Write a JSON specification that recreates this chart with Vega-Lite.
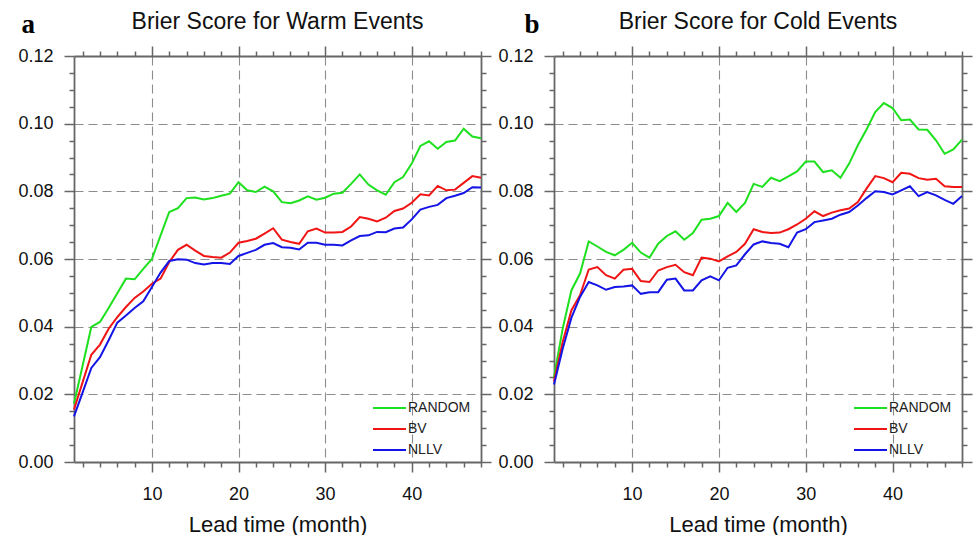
{
  "$schema": "https://vega.github.io/schema/vega-lite/v6.json",
  "background": "white",
  "padding": {"left": 17, "top": 10, "right": 0, "bottom": 0},
  "spacing": 5,
  "datasets": {
    "warm": [
      {"lead": 1, "RANDOM": 0.0172, "BV": 0.0155, "NLLV": 0.0135},
      {"lead": 2, "RANDOM": 0.0285, "BV": 0.0236, "NLLV": 0.0206},
      {"lead": 3, "RANDOM": 0.0399, "BV": 0.0317, "NLLV": 0.0278},
      {"lead": 4, "RANDOM": 0.0414, "BV": 0.0347, "NLLV": 0.0310},
      {"lead": 5, "RANDOM": 0.0455, "BV": 0.0394, "NLLV": 0.0360},
      {"lead": 6, "RANDOM": 0.0499, "BV": 0.0428, "NLLV": 0.0412},
      {"lead": 7, "RANDOM": 0.0542, "BV": 0.0458, "NLLV": 0.0433},
      {"lead": 8, "RANDOM": 0.0540, "BV": 0.0485, "NLLV": 0.0455},
      {"lead": 9, "RANDOM": 0.0571, "BV": 0.0504, "NLLV": 0.0475},
      {"lead": 10, "RANDOM": 0.0600, "BV": 0.0527, "NLLV": 0.0517},
      {"lead": 11, "RANDOM": 0.0670, "BV": 0.0542, "NLLV": 0.0560},
      {"lead": 12, "RANDOM": 0.0739, "BV": 0.0591, "NLLV": 0.0594},
      {"lead": 13, "RANDOM": 0.0750, "BV": 0.0627, "NLLV": 0.0599},
      {"lead": 14, "RANDOM": 0.0780, "BV": 0.0642, "NLLV": 0.0598},
      {"lead": 15, "RANDOM": 0.0782, "BV": 0.0625, "NLLV": 0.0588},
      {"lead": 16, "RANDOM": 0.0776, "BV": 0.0609, "NLLV": 0.0584},
      {"lead": 17, "RANDOM": 0.0780, "BV": 0.0606, "NLLV": 0.0588},
      {"lead": 18, "RANDOM": 0.0787, "BV": 0.0604, "NLLV": 0.0588},
      {"lead": 19, "RANDOM": 0.0793, "BV": 0.0619, "NLLV": 0.0585},
      {"lead": 20, "RANDOM": 0.0827, "BV": 0.0648, "NLLV": 0.0609},
      {"lead": 21, "RANDOM": 0.0803, "BV": 0.0653, "NLLV": 0.0618},
      {"lead": 22, "RANDOM": 0.0798, "BV": 0.0660, "NLLV": 0.0627},
      {"lead": 23, "RANDOM": 0.0814, "BV": 0.0675, "NLLV": 0.0642},
      {"lead": 24, "RANDOM": 0.0800, "BV": 0.0691, "NLLV": 0.0647},
      {"lead": 25, "RANDOM": 0.0768, "BV": 0.0657, "NLLV": 0.0635},
      {"lead": 26, "RANDOM": 0.0765, "BV": 0.0650, "NLLV": 0.0633},
      {"lead": 27, "RANDOM": 0.0773, "BV": 0.0645, "NLLV": 0.0628},
      {"lead": 28, "RANDOM": 0.0785, "BV": 0.0682, "NLLV": 0.0648},
      {"lead": 29, "RANDOM": 0.0775, "BV": 0.0690, "NLLV": 0.0648},
      {"lead": 30, "RANDOM": 0.0781, "BV": 0.0678, "NLLV": 0.0642},
      {"lead": 31, "RANDOM": 0.0793, "BV": 0.0678, "NLLV": 0.0642},
      {"lead": 32, "RANDOM": 0.0796, "BV": 0.0680, "NLLV": 0.0640},
      {"lead": 33, "RANDOM": 0.0822, "BV": 0.0696, "NLLV": 0.0655},
      {"lead": 34, "RANDOM": 0.0850, "BV": 0.0724, "NLLV": 0.0668},
      {"lead": 35, "RANDOM": 0.0820, "BV": 0.0719, "NLLV": 0.0670},
      {"lead": 36, "RANDOM": 0.0803, "BV": 0.0711, "NLLV": 0.0680},
      {"lead": 37, "RANDOM": 0.0790, "BV": 0.0722, "NLLV": 0.0679},
      {"lead": 38, "RANDOM": 0.0827, "BV": 0.0742, "NLLV": 0.0690},
      {"lead": 39, "RANDOM": 0.0842, "BV": 0.0749, "NLLV": 0.0693},
      {"lead": 40, "RANDOM": 0.0882, "BV": 0.0766, "NLLV": 0.0717},
      {"lead": 41, "RANDOM": 0.0934, "BV": 0.0791, "NLLV": 0.0746},
      {"lead": 42, "RANDOM": 0.0948, "BV": 0.0788, "NLLV": 0.0754},
      {"lead": 43, "RANDOM": 0.0926, "BV": 0.0816, "NLLV": 0.0760},
      {"lead": 44, "RANDOM": 0.0946, "BV": 0.0803, "NLLV": 0.0780},
      {"lead": 45, "RANDOM": 0.0950, "BV": 0.0805, "NLLV": 0.0787},
      {"lead": 46, "RANDOM": 0.0985, "BV": 0.0825, "NLLV": 0.0795},
      {"lead": 47, "RANDOM": 0.0962, "BV": 0.0845, "NLLV": 0.0812},
      {"lead": 48, "RANDOM": 0.0957, "BV": 0.0840, "NLLV": 0.0811}
    ],
    "cold": [
      {"lead": 1, "RANDOM": 0.0251, "BV": 0.0238, "NLLV": 0.0229},
      {"lead": 2, "RANDOM": 0.0394, "BV": 0.0355, "NLLV": 0.0335},
      {"lead": 3, "RANDOM": 0.0507, "BV": 0.0448, "NLLV": 0.0426},
      {"lead": 4, "RANDOM": 0.0557, "BV": 0.0493, "NLLV": 0.0488},
      {"lead": 5, "RANDOM": 0.0652, "BV": 0.0569, "NLLV": 0.0532},
      {"lead": 6, "RANDOM": 0.0637, "BV": 0.0576, "NLLV": 0.0522},
      {"lead": 7, "RANDOM": 0.0621, "BV": 0.0552, "NLLV": 0.0509},
      {"lead": 8, "RANDOM": 0.0611, "BV": 0.0542, "NLLV": 0.0517},
      {"lead": 9, "RANDOM": 0.0627, "BV": 0.0568, "NLLV": 0.0519},
      {"lead": 10, "RANDOM": 0.0648, "BV": 0.0571, "NLLV": 0.0522},
      {"lead": 11, "RANDOM": 0.0619, "BV": 0.0535, "NLLV": 0.0497},
      {"lead": 12, "RANDOM": 0.0604, "BV": 0.0532, "NLLV": 0.0502},
      {"lead": 13, "RANDOM": 0.0645, "BV": 0.0566, "NLLV": 0.0502},
      {"lead": 14, "RANDOM": 0.0668, "BV": 0.0576, "NLLV": 0.0539},
      {"lead": 15, "RANDOM": 0.0682, "BV": 0.0583, "NLLV": 0.0542},
      {"lead": 16, "RANDOM": 0.0657, "BV": 0.0561, "NLLV": 0.0507},
      {"lead": 17, "RANDOM": 0.0677, "BV": 0.0552, "NLLV": 0.0507},
      {"lead": 18, "RANDOM": 0.0716, "BV": 0.0604, "NLLV": 0.0537},
      {"lead": 19, "RANDOM": 0.0719, "BV": 0.0601, "NLLV": 0.0549},
      {"lead": 20, "RANDOM": 0.0727, "BV": 0.0593, "NLLV": 0.0537},
      {"lead": 21, "RANDOM": 0.0766, "BV": 0.0608, "NLLV": 0.0574},
      {"lead": 22, "RANDOM": 0.0739, "BV": 0.0621, "NLLV": 0.0581},
      {"lead": 23, "RANDOM": 0.0766, "BV": 0.0645, "NLLV": 0.0614},
      {"lead": 24, "RANDOM": 0.0822, "BV": 0.0688, "NLLV": 0.0643},
      {"lead": 25, "RANDOM": 0.0813, "BV": 0.0680, "NLLV": 0.0652},
      {"lead": 26, "RANDOM": 0.0840, "BV": 0.0677, "NLLV": 0.0647},
      {"lead": 27, "RANDOM": 0.0830, "BV": 0.0678, "NLLV": 0.0645},
      {"lead": 28, "RANDOM": 0.0844, "BV": 0.0688, "NLLV": 0.0635},
      {"lead": 29, "RANDOM": 0.0859, "BV": 0.0702, "NLLV": 0.0678},
      {"lead": 30, "RANDOM": 0.0888, "BV": 0.0719, "NLLV": 0.0688},
      {"lead": 31, "RANDOM": 0.0888, "BV": 0.0741, "NLLV": 0.0709},
      {"lead": 32, "RANDOM": 0.0857, "BV": 0.0727, "NLLV": 0.0714},
      {"lead": 33, "RANDOM": 0.0862, "BV": 0.0737, "NLLV": 0.0719},
      {"lead": 34, "RANDOM": 0.0840, "BV": 0.0744, "NLLV": 0.0731},
      {"lead": 35, "RANDOM": 0.0882, "BV": 0.0749, "NLLV": 0.0739},
      {"lead": 36, "RANDOM": 0.0936, "BV": 0.0768, "NLLV": 0.0758},
      {"lead": 37, "RANDOM": 0.0983, "BV": 0.0808, "NLLV": 0.0780},
      {"lead": 38, "RANDOM": 0.1034, "BV": 0.0845, "NLLV": 0.0800},
      {"lead": 39, "RANDOM": 0.1061, "BV": 0.0839, "NLLV": 0.0798},
      {"lead": 40, "RANDOM": 0.1046, "BV": 0.0827, "NLLV": 0.0791},
      {"lead": 41, "RANDOM": 0.1010, "BV": 0.0855, "NLLV": 0.0803},
      {"lead": 42, "RANDOM": 0.1012, "BV": 0.0852, "NLLV": 0.0815},
      {"lead": 43, "RANDOM": 0.0983, "BV": 0.0839, "NLLV": 0.0786},
      {"lead": 44, "RANDOM": 0.0982, "BV": 0.0834, "NLLV": 0.0798},
      {"lead": 45, "RANDOM": 0.0951, "BV": 0.0837, "NLLV": 0.0788},
      {"lead": 46, "RANDOM": 0.0911, "BV": 0.0815, "NLLV": 0.0775},
      {"lead": 47, "RANDOM": 0.0924, "BV": 0.0813, "NLLV": 0.0763},
      {"lead": 48, "RANDOM": 0.0953, "BV": 0.0813, "NLLV": 0.0786}
    ]
  },
  "hconcat": [
    {
      "width": 407,
      "height": 406,
      "data": {"name": "warm"},
      "transform": [{"fold": ["RANDOM", "BV", "NLLV"], "as": ["model", "score"]}],
      "title": {"text": "Brier Score for Warm Events"},
      "layer": [
        {
          "mark": {"type": "line", "strokeWidth": 2},
          "encoding": {
            "x": {
              "field": "lead", "type": "quantitative",
              "scale": {"domain": [1, 48], "nice": false, "zero": false},
              "axis": {
                "orient": "bottom",
                "values": [2,4,6,8,10,12,14,16,18,20,22,24,26,28,30,32,34,36,38,40,42,44,46,48],
                "labelExpr": "datum.value % 10 === 0 ? datum.label : ''",
                "tickSize": {"condition": {"test": "datum.value % 10 === 0", "value": 10}, "value": 5},
                "grid": true,
                "gridOpacity": {"condition": {"test": "datum.value % 10 === 0", "value": 1}, "value": 0},
                "labelPadding": 13,
                "title": "Lead time (month)",
                "titleFontSize": 22,
                "titlePadding": 11
              }
            },
            "y": {
              "field": "score", "type": "quantitative",
              "scale": {"domain": [0, 0.12], "nice": false},
              "axis": {
                "orient": "left",
                "values": [0,0.005,0.01,0.015,0.02,0.025,0.03,0.035,0.04,0.045,0.05,0.055,0.06,0.065,0.07,0.075,0.08,0.085,0.09,0.095,0.1,0.105,0.11,0.115,0.12],
                "labelExpr": "round(datum.value*1000) % 20 === 0 ? format(datum.value, '.2f') : ''",
                "tickSize": {"condition": {"test": "round(datum.value*1000) % 20 === 0", "value": 10}, "value": 5},
                "grid": true,
                "gridOpacity": {"condition": {"test": "round(datum.value*1000) % 20 === 0 && datum.value > 0.001 && datum.value < 0.119", "value": 1}, "value": 0},
                "labelPadding": 11,
                "title": "a",
                "titleAngle": 0,
                "titleX": -53,
                "titleY": -24,
                "titleAlign": "left",
                "titleBaseline": "alphabetic",
                "titleFont": "Liberation Serif",
                "titleFontSize": 27,
                "titleFontWeight": "bold",
                "titleColor": "#000"
              }
            },
            "color": {
              "field": "model", "type": "nominal",
              "scale": {"domain": ["RANDOM", "BV", "NLLV"], "range": ["#1ee01e", "#f01414", "#1414e6"]},
              "legend": {"orient": "none", "legendX": 298, "legendY": 345, "title": null}
            }
          }
        },
        {
          "mark": {"type": "line", "strokeOpacity": 0},
          "encoding": {
            "detail": {"field": "model"},
            "x": {
              "field": "lead", "type": "quantitative",
              "axis": {
                "orient": "top",
                "values": [2,4,6,8,10,12,14,16,18,20,22,24,26,28,30,32,34,36,38,40,42,44,46,48],
                "labels": false,
                "grid": false,
                "title": null,
                "tickSize": {"condition": {"test": "datum.value % 10 === 0", "value": 10}, "value": 5}
              }
            },
            "y": {
              "field": "score", "type": "quantitative",
              "axis": {
                "orient": "right",
                "values": [0,0.005,0.01,0.015,0.02,0.025,0.03,0.035,0.04,0.045,0.05,0.055,0.06,0.065,0.07,0.075,0.08,0.085,0.09,0.095,0.1,0.105,0.11,0.115,0.12],
                "labels": false,
                "grid": false,
                "title": null,
                "tickSize": {"condition": {"test": "round(datum.value*1000) % 20 === 0", "value": 10}, "value": 5}
              }
            }
          }
        }
      ],
      "resolve": {"axis": {"x": "independent", "y": "independent"}}
    },
    {
      "width": 408,
      "height": 406,
      "data": {"name": "cold"},
      "transform": [{"fold": ["RANDOM", "BV", "NLLV"], "as": ["model", "score"]}],
      "title": {"text": "Brier Score for Cold Events"},
      "layer": [
        {
          "mark": {"type": "line", "strokeWidth": 2},
          "encoding": {
            "x": {
              "field": "lead", "type": "quantitative",
              "scale": {"domain": [1, 48], "nice": false, "zero": false},
              "axis": {
                "orient": "bottom",
                "values": [2,4,6,8,10,12,14,16,18,20,22,24,26,28,30,32,34,36,38,40,42,44,46,48],
                "labelExpr": "datum.value % 10 === 0 ? datum.label : ''",
                "tickSize": {"condition": {"test": "datum.value % 10 === 0", "value": 10}, "value": 5},
                "grid": true,
                "gridOpacity": {"condition": {"test": "datum.value % 10 === 0", "value": 1}, "value": 0},
                "labelPadding": 13,
                "title": "Lead time (month)",
                "titleFontSize": 22,
                "titlePadding": 11
              }
            },
            "y": {
              "field": "score", "type": "quantitative",
              "scale": {"domain": [0, 0.12], "nice": false},
              "axis": {
                "orient": "left",
                "values": [0,0.005,0.01,0.015,0.02,0.025,0.03,0.035,0.04,0.045,0.05,0.055,0.06,0.065,0.07,0.075,0.08,0.085,0.09,0.095,0.1,0.105,0.11,0.115,0.12],
                "labelExpr": "round(datum.value*1000) % 20 === 0 ? format(datum.value, '.2f') : ''",
                "tickSize": {"condition": {"test": "round(datum.value*1000) % 20 === 0", "value": 10}, "value": 5},
                "grid": true,
                "gridOpacity": {"condition": {"test": "round(datum.value*1000) % 20 === 0 && datum.value > 0.001 && datum.value < 0.119", "value": 1}, "value": 0},
                "labelPadding": 11,
                "title": "b",
                "titleAngle": 0,
                "titleX": -30,
                "titleY": -24,
                "titleAlign": "left",
                "titleBaseline": "alphabetic",
                "titleFont": "Liberation Serif",
                "titleFontSize": 27,
                "titleFontWeight": "bold",
                "titleColor": "#000"
              }
            },
            "color": {
              "field": "model", "type": "nominal",
              "scale": {"domain": ["RANDOM", "BV", "NLLV"], "range": ["#1ee01e", "#f01414", "#1414e6"]},
              "legend": {"orient": "none", "legendX": 299, "legendY": 345, "title": null}
            }
          }
        },
        {
          "mark": {"type": "line", "strokeOpacity": 0},
          "encoding": {
            "detail": {"field": "model"},
            "x": {
              "field": "lead", "type": "quantitative",
              "axis": {
                "orient": "top",
                "values": [2,4,6,8,10,12,14,16,18,20,22,24,26,28,30,32,34,36,38,40,42,44,46,48],
                "labels": false,
                "grid": false,
                "title": null,
                "tickSize": {"condition": {"test": "datum.value % 10 === 0", "value": 10}, "value": 5}
              }
            },
            "y": {
              "field": "score", "type": "quantitative",
              "axis": {
                "orient": "right",
                "values": [0,0.005,0.01,0.015,0.02,0.025,0.03,0.035,0.04,0.045,0.05,0.055,0.06,0.065,0.07,0.075,0.08,0.085,0.09,0.095,0.1,0.105,0.11,0.115,0.12],
                "labels": false,
                "grid": false,
                "title": null,
                "tickSize": {"condition": {"test": "round(datum.value*1000) % 20 === 0", "value": 10}, "value": 5}
              }
            }
          }
        }
      ],
      "resolve": {"axis": {"x": "independent", "y": "independent"}}
    }
  ],
  "resolve": {"scale": {"color": "independent"}, "legend": {"color": "independent"}},
  "config": {
    "font": "Liberation Sans",
    "view": {"stroke": null},
    "axis": {
      "domainColor": "#666",
      "domainWidth": 1.8,
      "tickColor": "#666",
      "tickWidth": 1.5,
      "labelFont": "Liberation Sans",
      "labelFontSize": 18,
      "labelColor": "#111",
      "labelOverlap": false,
      "labelFlush": false,
      "gridColor": "#8c8c8c",
      "gridDash": [9, 5],
      "gridWidth": 1.1,
      "titleFont": "Liberation Sans",
      "titleFontWeight": "normal",
      "titleColor": "#111"
    },
    "title": {"font": "Liberation Sans", "fontSize": 23, "fontWeight": "normal", "color": "#111", "offset": -24},
    "legend": {
      "symbolType": "stroke",
      "symbolSize": 1089,
      "symbolStrokeWidth": 2,
      "labelFont": "Liberation Sans",
      "labelFontSize": 14,
      "labelColor": "#222",
      "labelOffset": 1,
      "clipHeight": 14,
      "rowPadding": 7,
      "padding": 0
    }
  }
}
